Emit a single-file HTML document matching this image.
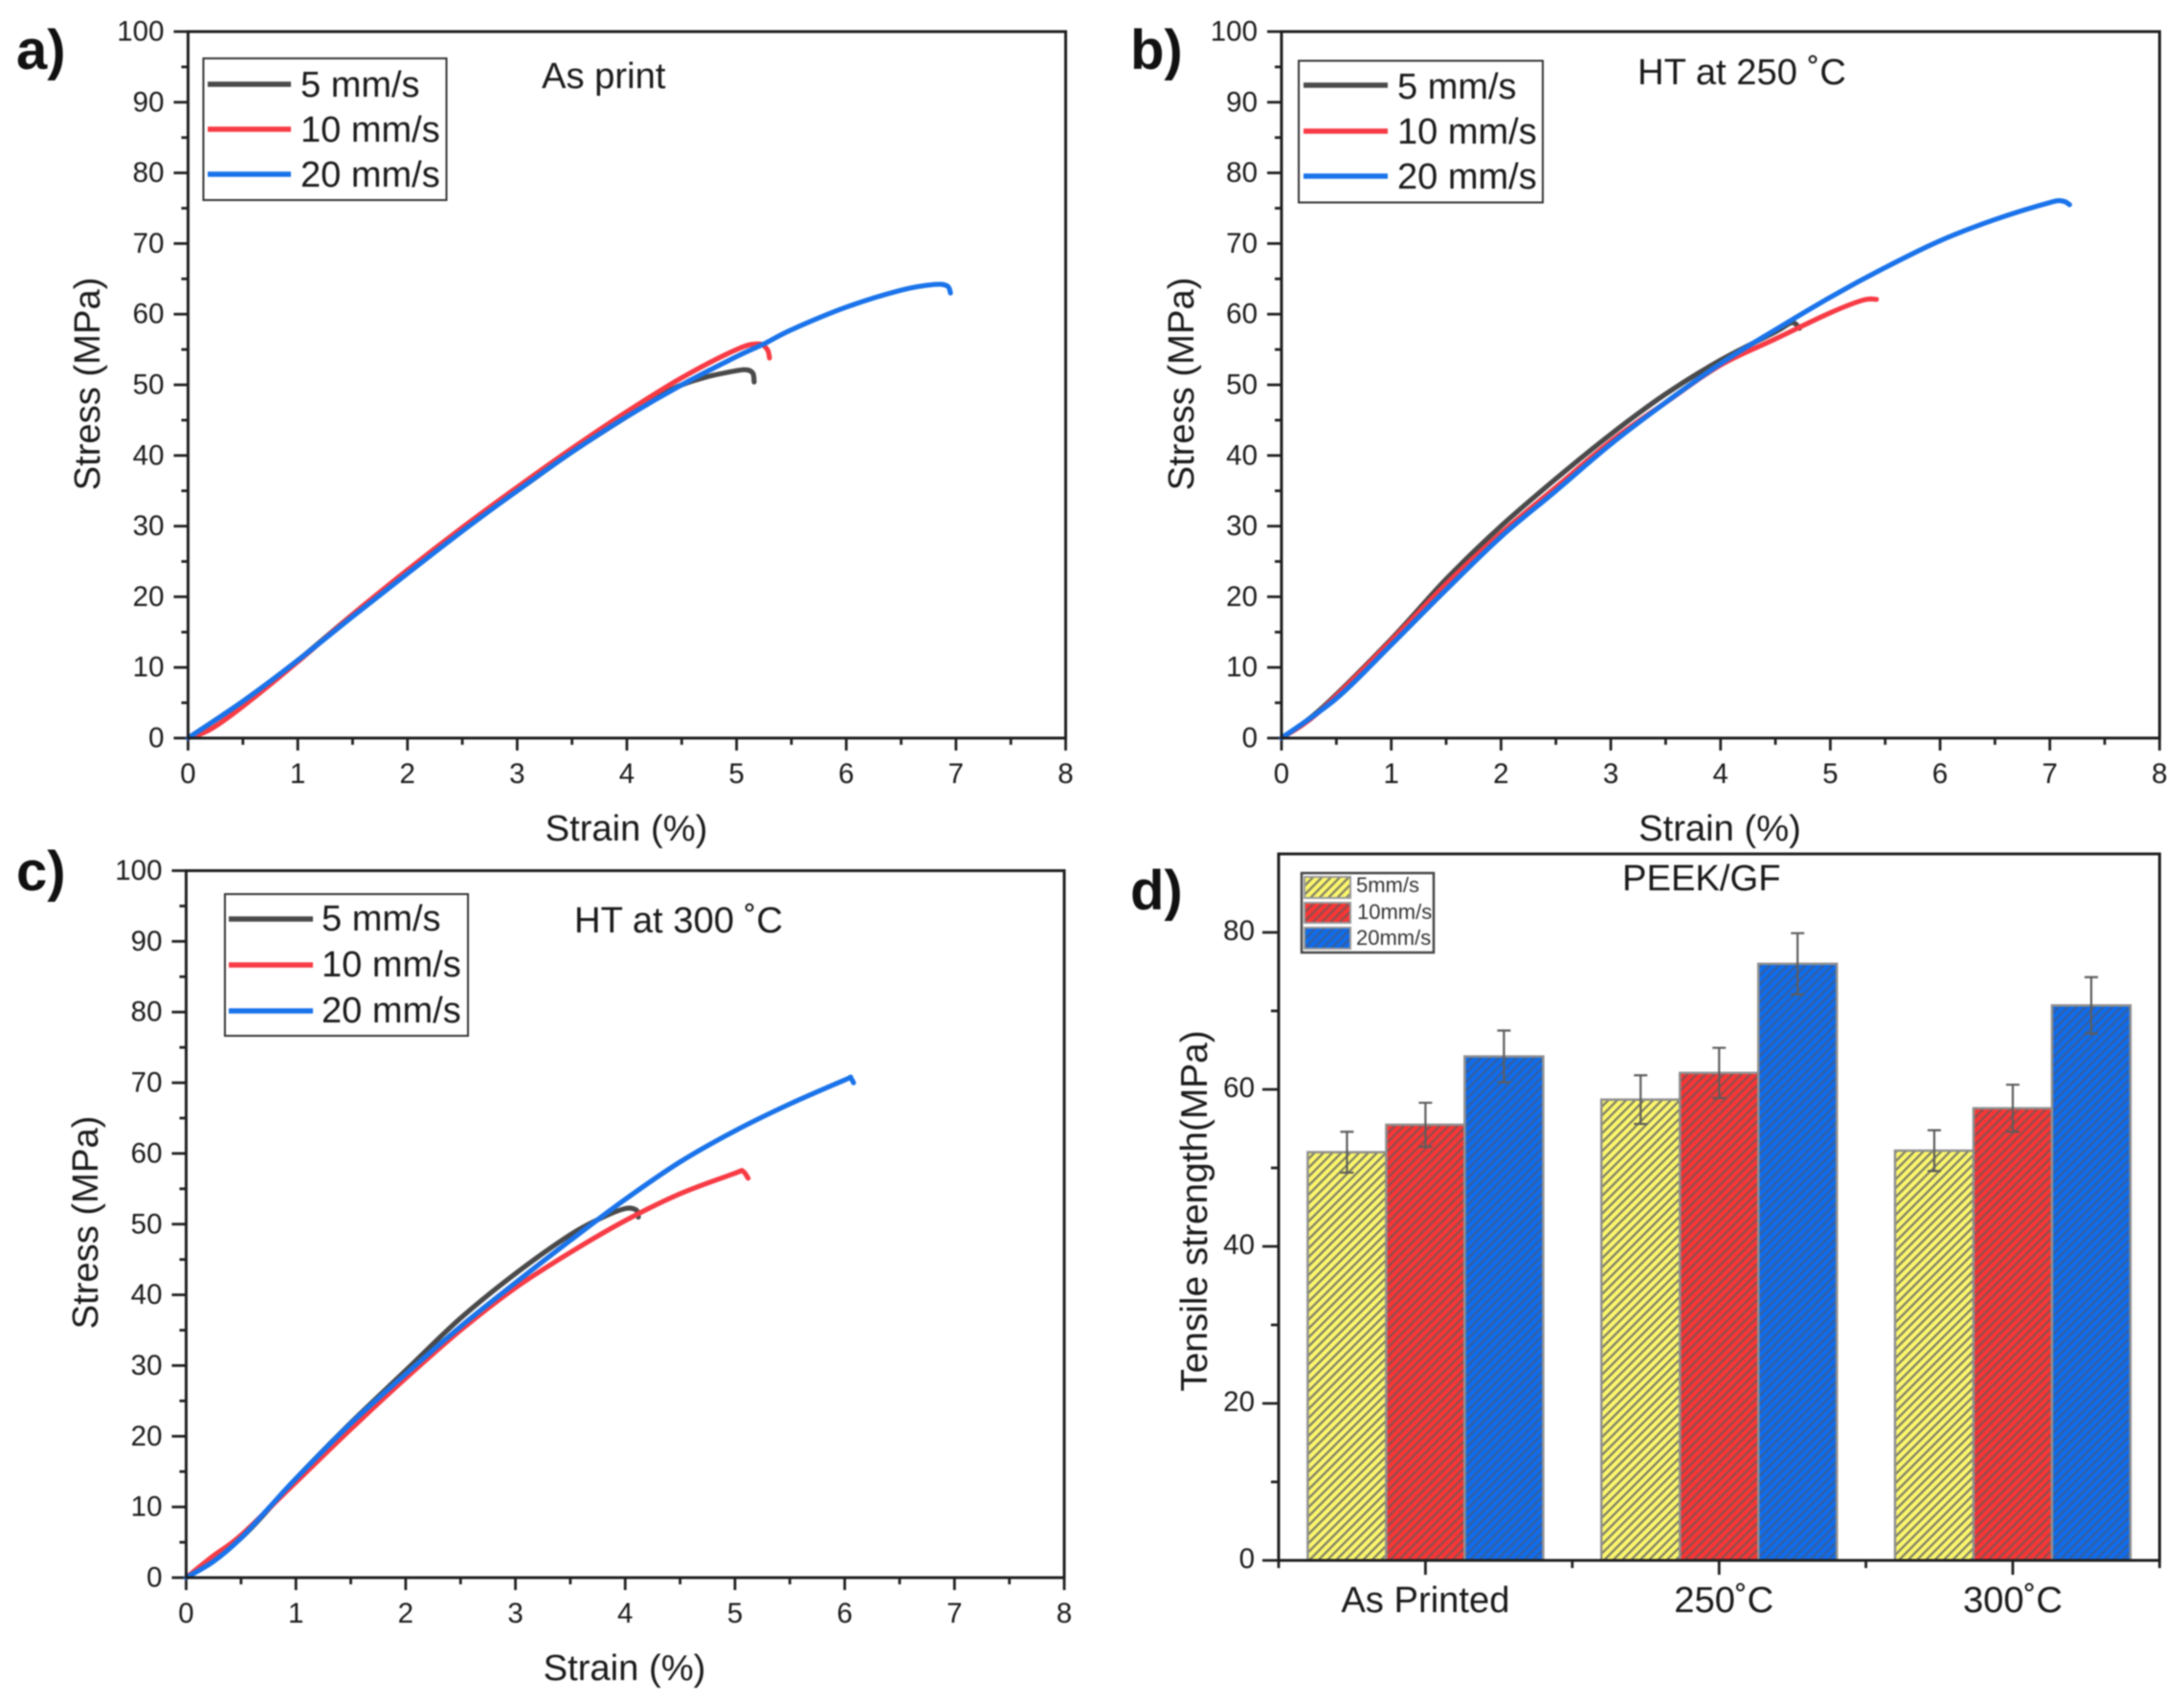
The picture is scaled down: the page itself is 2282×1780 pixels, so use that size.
<!DOCTYPE html>
<html lang="en">
<head>
<meta charset="utf-8">
<title>PEEK/GF tensile results</title>
<style>
  html, body { margin: 0; padding: 0; background: #fff; }
  body { width: 2282px; height: 1780px; overflow: hidden; }
  svg { display: block; filter: blur(0.9px); }
  text { font-family: "Liberation Sans", sans-serif; fill: #1a1a1a; }
  .tick { font-size: 29.5px; }
  .title { font-size: 38.2px; }
  .wide-title { font-size: 38.8px; }
  .legend { font-size: 38px; }
  .panel { font-size: 58px; font-weight: bold; fill: #111; }
  .small { font-size: 22px; fill: #333; }
</style>
</head>
<body>
<svg id="figure" xmlns="http://www.w3.org/2000/svg" width="2282" height="1780" viewBox="0 0 2282 1780">
  <defs>
    <pattern id="hatch-y" patternUnits="userSpaceOnUse" width="6.6" height="6.6" patternTransform="rotate(45)">
      <rect width="6.6" height="6.6" fill="#fbf66c"/><rect x="0" width="2.3" height="6.6" fill="#7f7f66"/>
    </pattern>
    <pattern id="hatch-r" patternUnits="userSpaceOnUse" width="6.6" height="6.6" patternTransform="rotate(45)">
      <rect width="6.6" height="6.6" fill="#f93535"/><rect x="0" width="2.2" height="6.6" fill="#8a4f4f"/>
    </pattern>
    <pattern id="hatch-b" patternUnits="userSpaceOnUse" width="6.6" height="6.6" patternTransform="rotate(45)">
      <rect width="6.6" height="6.6" fill="#0f6cec"/><rect x="0" width="2.2" height="6.6" fill="#365e9c"/>
    </pattern>
  </defs>
  <rect width="2282" height="1780" fill="#fff"/>

  <g id="plot-a"></g>
  <g id="plot-b"></g>
  <g id="plot-c"></g>
  <g id="plot-d"></g>

  <!-- panel letters -->
  <text class="panel" x="17" y="72">a)</text>
  <text class="panel" x="1181" y="72">b)</text>
  <text class="panel" x="17" y="930">c)</text>
  <text class="panel" x="1181" y="950">d)</text>

  <!-- axis titles -->
  <text class="title" transform="translate(104,401) rotate(-90)" text-anchor="middle">Stress (MPa)</text>
  <text class="title" x="654.5" y="878" text-anchor="middle">Strain (%)</text>
  <text class="title" transform="translate(1247,401) rotate(-90)" text-anchor="middle">Stress (MPa)</text>
  <text class="title" x="1797" y="878" text-anchor="middle">Strain (%)</text>
  <text class="title" transform="translate(102,1277) rotate(-90)" text-anchor="middle">Stress (MPa)</text>
  <text class="title" x="652.5" y="1755" text-anchor="middle">Strain (%)</text>
  <text class="wide-title" transform="translate(1261,1265) rotate(-90)" text-anchor="middle">Tensile strength(MPa)</text>

  <!-- annotations -->
  <text class="title" x="566" y="92">As print</text>
  <text class="title" x="1711" y="88">HT at 250 ˚C</text>
  <text class="title" x="600" y="974">HT at 300 ˚C</text>
  <text class="title" x="1695" y="930">PEEK/GF</text>

  <!-- legend a -->
  <g>
    <rect x="212.5" y="61" width="254" height="148" fill="#fff" stroke="#333" stroke-width="2"/>
    <line x1="217" x2="304" y1="88" y2="88" stroke="#4a4a4a" stroke-width="5.5"/>
    <line x1="217" x2="304" y1="135" y2="135" stroke="#f73b45" stroke-width="5.5"/>
    <line x1="217" x2="304" y1="182" y2="182" stroke="#1a73ea" stroke-width="5.5"/>
    <text class="legend" x="314" y="101">5 mm/s</text>
    <text class="legend" x="314" y="148">10 mm/s</text>
    <text class="legend" x="314" y="195">20 mm/s</text>
  </g>
  <!-- legend b -->
  <g>
    <rect x="1357" y="63.5" width="255" height="148" fill="#fff" stroke="#333" stroke-width="2"/>
    <line x1="1362" x2="1450" y1="89" y2="89" stroke="#4a4a4a" stroke-width="5.5"/>
    <line x1="1362" x2="1450" y1="137" y2="137" stroke="#f73b45" stroke-width="5.5"/>
    <line x1="1362" x2="1450" y1="184" y2="184" stroke="#1a73ea" stroke-width="5.5"/>
    <text class="legend" x="1460" y="103">5 mm/s</text>
    <text class="legend" x="1460" y="150">10 mm/s</text>
    <text class="legend" x="1460" y="197">20 mm/s</text>
  </g>
  <!-- legend c -->
  <g>
    <rect x="235" y="934" width="254" height="148" fill="#fff" stroke="#333" stroke-width="2"/>
    <line x1="239" x2="327" y1="960" y2="960" stroke="#4a4a4a" stroke-width="5.5"/>
    <line x1="239" x2="327" y1="1008" y2="1008" stroke="#f73b45" stroke-width="5.5"/>
    <line x1="239" x2="327" y1="1056" y2="1056" stroke="#1a73ea" stroke-width="5.5"/>
    <text class="legend" x="336" y="972">5 mm/s</text>
    <text class="legend" x="336" y="1020">10 mm/s</text>
    <text class="legend" x="336" y="1068">20 mm/s</text>
  </g>
  <!-- legend d -->
  <g>
    <rect x="1360" y="912" width="138" height="83" fill="#fff" stroke="#444" stroke-width="2.5"/>
    <rect x="1363" y="916" width="48" height="22" fill="url(#hatch-y)" stroke="#999" stroke-width="2"/>
    <rect x="1363" y="943" width="48" height="21" fill="url(#hatch-r)" stroke="#999" stroke-width="2"/>
    <rect x="1363" y="969" width="48" height="22" fill="url(#hatch-b)" stroke="#999" stroke-width="2"/>
    <text class="small" x="1417" y="932">5mm/s</text>
    <text class="small" x="1418" y="960">10mm/s</text>
    <text class="small" x="1417" y="987">20mm/s</text>
  </g>
</svg>

<script>
// ---------- chart data ----------
const strainTickLabels = ['0', '1', '2', '3', '4', '5', '6', '7', '8'];
const stressTickLabels = ['0', '10', '20', '30', '40', '50', '60', '70', '80', '90', '100'];
const strengthTickLabels = ['0', '20', '40', '60', '80'];

const aStrain5 = [0, 0.5, 1, 1.5, 2, 2.5, 3, 3.5, 4, 4.4, 4.7, 5, 5.1, 5.15, 5.16];
const aStress5 = [0, 5.2, 11, 17.5, 23.5, 29.5, 35, 40.5, 45.5, 49.3, 51, 52, 52.1, 51.6, 50.4];
const aStrain10 = [0, 0.2, 0.5, 1, 1.5, 2, 2.5, 3, 3.5, 4, 4.5, 5, 5.2, 5.28, 5.3];
const aStress10 = [0, 1.2, 4.5, 10.8, 17.5, 23.8, 29.8, 35.5, 41, 46.2, 51, 55, 55.8, 55, 53.8];
const aStrain20 = [0, 0.5, 1, 1.5, 2, 2.5, 3, 3.5, 4, 4.5, 5, 5.25, 5.5, 6, 6.5, 6.8, 6.92, 6.95];
const aStress20 = [0, 5.2, 11, 17.2, 23.3, 29.3, 35, 40.5, 45.5, 50, 54, 55.8, 57.8, 61, 63.4, 64.2, 64, 63];

const bStrain5 = [0, 0.35, 1, 1.5, 2, 2.5, 3, 3.5, 4, 4.5, 4.65, 4.72];
const bStress5 = [0, 4, 14, 22.5, 30, 36.7, 43, 48.7, 53.5, 57.5, 58.8, 58];
const bStrain10 = [0, 0.35, 1, 1.5, 2, 2.5, 3, 3.5, 4, 4.5, 5, 5.3, 5.42];
const bStress10 = [0, 3.8, 13.8, 21.8, 29, 35.5, 42, 47.5, 52.8, 56.5, 60.2, 62, 62.1];
const bStrain20 = [0, 0.35, 0.6, 1, 1.5, 2, 2.5, 3, 3.5, 4, 4.5, 5, 5.5, 6, 6.5, 7, 7.12, 7.18];
const bStress20 = [0, 3.8, 7, 13.2, 21, 28.5, 35, 41.6, 47.5, 53, 57.8, 62.4, 66.6, 70.4, 73.4, 75.8, 76, 75.5];

const cStrain5 = [0, 0.5, 1, 1.5, 2, 2.5, 3, 3.5, 3.8, 4, 4.1, 4.12];
const cStress5 = [0, 5.6, 14, 21.9, 29.3, 36.7, 43, 48.5, 51, 52.2, 52, 51];
const cStrain10 = [0, 0.25, 0.5, 1, 1.5, 2, 2.5, 3, 3.5, 4, 4.5, 5, 5.07, 5.12];
const cStress10 = [0, 3.1, 6, 13.5, 21, 28.2, 35, 41, 46, 50.5, 54.3, 57.2, 57.5, 56.5];
const cStrain20 = [0, 0.25, 0.5, 0.75, 1, 1.5, 2, 2.5, 3, 3.5, 4, 4.5, 5, 5.5, 6, 6.05, 6.08];
const cStress20 = [0, 2.3, 5.6, 9.8, 14, 21.8, 28.8, 35.5, 41.7, 47.7, 53.5, 58.8, 63.2, 67, 70.4, 70.7, 70];

const categories = ['As Printed', '250˚C', '300˚C'];
const strength5 = [52, 58.7, 52.2];
const strength10 = [55.5, 62.1, 57.6];
const strength20 = [64.2, 76, 70.7];
const error5 = [2.6, 3.1, 2.6];
const error10 = [2.8, 3.2, 3];
const error20 = [3.3, 3.9, 3.6];

// ---------- drawing ----------
const NS = 'http://www.w3.org/2000/svg';
const INK = '#1f1f1f';
const LINE_COLORS = ['#4a4a4a', '#f73b45', '#1a73ea'];

function make(tag, attrs, parent) {
  const el = document.createElementNS(NS, tag);
  for (const k in attrs) el.setAttribute(k, attrs[k]);
  parent.appendChild(el);
  return el;
}

function smoothPath(pts) {
  let d = 'M' + pts[0][0].toFixed(2) + ' ' + pts[0][1].toFixed(2);
  for (let i = 0; i < pts.length - 1; i++) {
    const p0 = pts[Math.max(i - 1, 0)], p1 = pts[i], p2 = pts[i + 1], p3 = pts[Math.min(i + 2, pts.length - 1)];
    const c1x = p1[0] + (p2[0] - p0[0]) / 6, c1y = p1[1] + (p2[1] - p0[1]) / 6;
    const c2x = p2[0] - (p3[0] - p1[0]) / 6, c2y = p2[1] - (p3[1] - p1[1]) / 6;
    d += 'C' + c1x.toFixed(2) + ' ' + c1y.toFixed(2) + ' ' + c2x.toFixed(2) + ' ' + c2y.toFixed(2) + ' ' + p2[0].toFixed(2) + ' ' + p2[1].toFixed(2);
  }
  return d;
}

function drawStressPlot(id, box, series) {
  const g = document.getElementById(id);
  const xScale = v => box.x0 + (v / 8) * (box.x1 - box.x0);
  const yScale = v => box.y0 - (v / 100) * (box.y0 - box.y1);

  for (let v = 0; v <= 8; v += 0.5) {
    const major = Number.isInteger(v);
    const t = make('line', { x1: xScale(v), x2: xScale(v), y1: box.y0, y2: box.y0 + (major ? 13 : 7), stroke: INK, 'stroke-width': 2.8 }, g);
    
    
  }
  for (let v = 0; v <= 100; v += 5) {
    const major = v % 10 === 0;
    const t = make('line', { x1: box.x0 - (major ? 15 : 7), x2: box.x0, y1: yScale(v), y2: yScale(v), stroke: INK, 'stroke-width': 2.8 }, g);
    
    
  }
  strainTickLabels.forEach(label => {
    const t = make('text', { class: 'tick', x: xScale(Number(label)), y: box.y0 + 47, 'text-anchor': 'middle' }, g);
    
    
    t.textContent = label;
  });
  stressTickLabels.forEach(label => {
    const t = make('text', { class: 'tick', x: box.x0 - 25, y: yScale(Number(label)) + 9.5, 'text-anchor': 'end' }, g);
    
    
    t.textContent = label;
  });
  series.forEach((s, i) => {
    const pts = s.x.map((v, j) => [xScale(v), yScale(s.y[j])]);
    const p = make('path', { d: smoothPath(pts), fill: 'none', stroke: LINE_COLORS[i], 'stroke-width': 5.2, 'stroke-linejoin': 'round', 'stroke-linecap': 'round' }, g);
    
    
  });
  const frame = make('rect', { x: box.x0, y: box.y1, width: box.x1 - box.x0, height: box.y0 - box.y1, fill: 'none', stroke: INK, 'stroke-width': 3 }, g);
  
  
}

drawStressPlot('plot-a', { x0: 196.5, x1: 1113.5, y0: 771, y1: 33 }, [
  { name: '5mms', x: aStrain5, y: aStress5 },
  { name: '10mms', x: aStrain10, y: aStress10 },
  { name: '20mms', x: aStrain20, y: aStress20 }
]);
drawStressPlot('plot-b', { x0: 1339, x1: 2256.5, y0: 771, y1: 33 }, [
  { name: '5mms', x: bStrain5, y: bStress5 },
  { name: '10mms', x: bStrain10, y: bStress10 },
  { name: '20mms', x: bStrain20, y: bStress20 }
]);
drawStressPlot('plot-c', { x0: 194.5, x1: 1112, y0: 1648, y1: 909.5 }, [
  { name: '5mms', x: cStrain5, y: cStress5 },
  { name: '10mms', x: cStrain10, y: cStress10 },
  { name: '20mms', x: cStrain20, y: cStress20 }
]);

(function drawBarPlot() {
  const g = document.getElementById('plot-d');
  const box = { x0: 1336, x1: 2256.5, y0: 1630, y1: 892 };
  const band = (box.x1 - box.x0) / categories.length;
  const barW = 82;
  const categoryLabelShift = [0, 5, 0];
  const xCenter = i => box.x0 + (i + 0.5) * band;
  const yScale = v => box.y0 - (v / 90) * (box.y0 - box.y1);
  const groups = [
    { name: '5mms', fill: 'url(#hatch-y)', values: strength5, errors: error5 },
    { name: '10mms', fill: 'url(#hatch-r)', values: strength10, errors: error10 },
    { name: '20mms', fill: 'url(#hatch-b)', values: strength20, errors: error20 }
  ];

  groups.forEach((s, k) => {
    s.values.forEach((v, i) => {
      const cx = xCenter(i) + (k - 1) * barW;
      const r = make('rect', { x: cx - barW / 2, y: yScale(v), width: barW, height: box.y0 - yScale(v), fill: s.fill, stroke: '#8f8f8f', 'stroke-width': 2.5 }, g);
      
      
    });
  });
  groups.forEach((s, k) => {
    s.values.forEach((v, i) => {
      const cx = xCenter(i) + (k - 1) * barW;
      const top = yScale(v + s.errors[i]), bot = yScale(v - s.errors[i]);
      const e = make('path', { d: 'M' + (cx - 7) + ' ' + top + 'H' + (cx + 7) + 'M' + cx + ' ' + top + 'V' + bot + 'M' + (cx - 7) + ' ' + bot + 'H' + (cx + 7), fill: 'none', stroke: '#5c5c5c', 'stroke-width': 2.2 }, g);
      
      
    });
  });

  for (let v = 0; v <= 80; v += 10) {
    const major = v % 20 === 0;
    const t = make('line', { x1: box.x0 - (major ? 17 : 8), x2: box.x0, y1: yScale(v), y2: yScale(v), stroke: INK, 'stroke-width': 2.8 }, g);
    
    
  }
  strengthTickLabels.forEach(label => {
    const t = make('text', { class: 'tick', x: box.x0 - 25, y: yScale(Number(label)) + 8, 'text-anchor': 'end' }, g);
    
    
    t.textContent = label;
  });
  for (let i = 0; i <= categories.length; i++) {
    const m = make('line', { x1: box.x0 + i * band, x2: box.x0 + i * band, y1: box.y0, y2: box.y0 + 8, stroke: INK, 'stroke-width': 2.8 }, g);
    
    
  }
  categories.forEach((label, i) => {
    const t = make('line', { x1: xCenter(i), x2: xCenter(i), y1: box.y0, y2: box.y0 + 15, stroke: INK, 'stroke-width': 2.8 }, g);
    
    
    const c = make('text', { class: 'title', x: xCenter(i) + categoryLabelShift[i], y: 1684, 'text-anchor': 'middle' }, g);
    
    
    c.textContent = label;
  });
  const frame = make('rect', { x: box.x0, y: box.y1, width: box.x1 - box.x0, height: box.y0 - box.y1, fill: 'none', stroke: INK, 'stroke-width': 3 }, g);
  
  
})();
</script>
</body>
</html>
